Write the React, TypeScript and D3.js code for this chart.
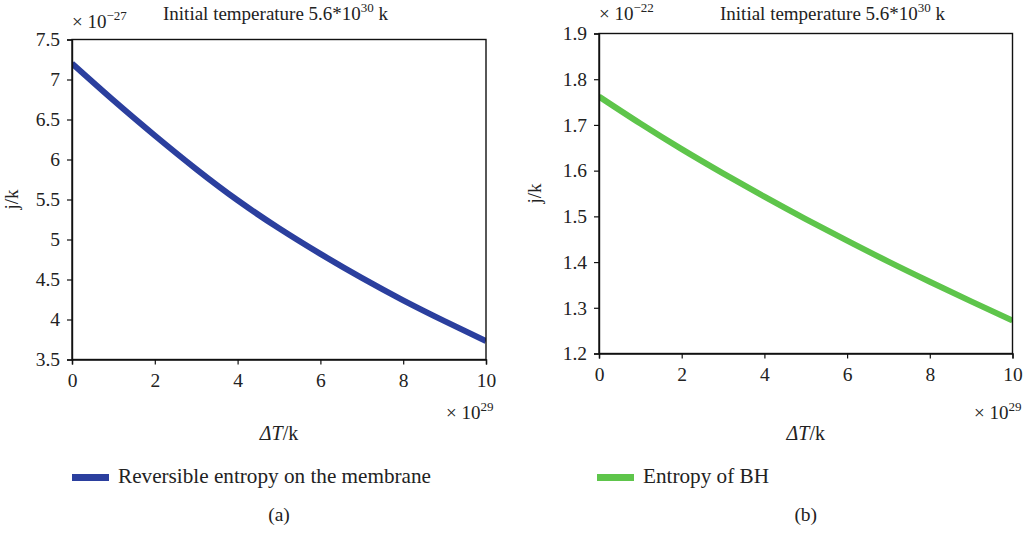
import React, { useEffect, useRef } from 'react';
import * as d3 from 'd3';

// x values are in units of 10^29 k
const xValues = [0, 1, 2, 3, 4, 5, 6, 7, 8, 9, 10];
const xTicks = [0, 2, 4, 6, 8, 10];

// (a) reversible entropy on the membrane, units of 10^-27
const membraneEntropy = [7.2, 6.74, 6.3, 5.88, 5.49, 5.14, 4.82, 4.52, 4.24, 3.98, 3.73];
const membraneTicks = [3.5, 4, 4.5, 5, 5.5, 6, 6.5, 7, 7.5];

// (b) entropy of BH, units of 10^-22
const bhEntropy = [1.762, 1.703, 1.647, 1.594, 1.543, 1.494, 1.447, 1.401, 1.357, 1.314, 1.272];
const bhTicks = [1.2, 1.3, 1.4, 1.5, 1.6, 1.7, 1.8, 1.9];

const FONT = '"Liberation Serif", "DejaVu Serif", serif';

type PanelProps = {
  values: number[];
  ticks: number[];
  color: string;
  yExp: string;
  legend: string;
  caption: string;
  left: number;
  right: number;
  top: number;
  bottom: number;
  yExpX: number;
  yExpY: number;
  titleX: number;
  xExpX: number;
  legendX: number;
  labelX: number;
};

const Panel: React.FC<PanelProps> = (p) => {
  const gRef = useRef<SVGGElement>(null);

  useEffect(() => {
    const g = d3.select(gRef.current);
    g.selectAll('*').remove();

    const x = d3.scaleLinear().domain([0, 10]).range([p.left, p.right]);
    const y = d3
      .scaleLinear()
      .domain([p.ticks[0], p.ticks[p.ticks.length - 1]])
      .range([p.bottom, p.top]);

    // curve, clipped to the plot box
    const clipId = 'clip-' + p.caption.replace(/\W/g, '');
    g.append('clipPath')
      .attr('id', clipId)
      .append('rect')
      .attr('x', p.left)
      .attr('y', p.top)
      .attr('width', p.right - p.left)
      .attr('height', p.bottom - p.top);

    const line = d3
      .line<number>()
      .x((_, i) => x(xValues[i]))
      .y((d) => y(d))
      .curve(d3.curveNatural);

    g.append('path')
      .datum(p.values)
      .attr('clip-path', `url(#${clipId})`)
      .attr('fill', 'none')
      .attr('stroke', p.color)
      .attr('stroke-width', 6)
      .attr('d', line);

    // box
    g.append('rect')
      .attr('x', p.left)
      .attr('y', p.top)
      .attr('width', p.right - p.left)
      .attr('height', p.bottom - p.top)
      .attr('fill', 'none')
      .attr('stroke', '#111')
      .attr('stroke-width', 1.4);

    const xAxis = d3
      .axisBottom(x)
      .tickValues(xTicks)
      .tickSize(5)
      .tickPadding(9)
      .tickFormat((d) => String(d));
    const yAxis = d3
      .axisLeft(y)
      .tickValues(p.ticks)
      .tickSize(5)
      .tickPadding(7)
      .tickFormat((d) => String(d));

    const xg = g.append('g').attr('transform', `translate(0,${p.bottom})`).call(xAxis);
    const yg = g.append('g').attr('transform', `translate(${p.left},0)`).call(yAxis);
    [xg, yg].forEach((a) => {
      a.select('.domain').attr('stroke', '#111').attr('stroke-width', 1.4);
      a.selectAll('.tick line').attr('stroke', '#111').attr('stroke-width', 1.2);
      a.selectAll('.tick text')
        .attr('fill', '#222')
        .style('font-family', FONT)
        .style('font-size', '19.5px');
    });
  }, []);

  const mid = (p.left + p.right) / 2;
  const midY = (p.top + p.bottom) / 2;

  return (
    <g fontFamily={FONT} fill="#222">
      <g ref={gRef} />
      {/* y exponent */}
      <text x={p.yExpX} y={p.yExpY} fontSize={19}>
        × 10
        <tspan dy={-8} fontSize={13}>
          {p.yExp}
        </tspan>
      </text>
      {/* title */}
      <text x={p.titleX} y={20} fontSize={19}>
        Initial temperature 5.6*10
        <tspan dy={-8} fontSize={13}>
          30
        </tspan>
        <tspan dy={8}> k</tspan>
      </text>
      {/* y label */}
      <text
        transform={`translate(${p.labelX},${midY}) rotate(-90)`}
        textAnchor="middle"
        fontSize={19}
      >
        j/k
      </text>
      {/* x exponent */}
      <text x={p.xExpX} y={419} fontSize={19}>
        × 10
        <tspan dy={-8} fontSize={13}>
          29
        </tspan>
      </text>
      {/* x label */}
      <text x={mid} y={440} textAnchor="middle" fontSize={20}>
        <tspan fontStyle="italic">ΔT</tspan>/k
      </text>
      {/* legend */}
      <rect x={p.legendX} y={474} width={37} height={7} fill={p.color} />
      <text x={p.legendX + 46} y={483} fontSize={21.2}>
        {p.legend}
      </text>
      {/* caption */}
      <text x={mid} y={521} textAnchor="middle" fontSize={19.5}>
        {p.caption}
      </text>
    </g>
  );
};

const App: React.FC = () => {
  return (
    <svg
      width={1030}
      height={535}
      style={{ position: 'absolute', left: 0, top: 0, background: '#fff' }}
    >
      <Panel
        values={membraneEntropy}
        ticks={membraneTicks}
        color="#2b3f9e"
        yExp="−27"
        legend="Reversible entropy on the membrane"
        caption="(a)"
        left={72}
        right={486}
        top={39.5}
        bottom={359.5}
        yExpX={72}
        yExpY={28}
        titleX={163}
        xExpX={446}
        legendX={72}
        labelX={18}
      />
      <Panel
        values={bhEntropy}
        ticks={bhTicks}
        color="#5ec54b"
        yExp="−22"
        legend="Entropy of BH"
        caption="(b)"
        left={599}
        right={1012.5}
        top={33.5}
        bottom={353.5}
        yExpX={599}
        yExpY={20}
        titleX={720}
        xExpX={974}
        legendX={597}
        labelX={541}
      />
    </svg>
  );
};

export default App;
